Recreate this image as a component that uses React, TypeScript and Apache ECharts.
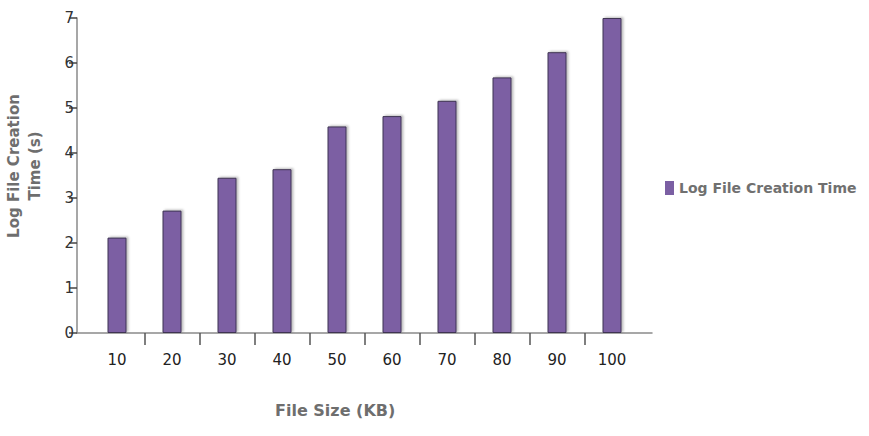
import React, { useEffect, useRef } from "react";
import * as echarts from "echarts";

const fileSizes = [10, 20, 30, 40, 50, 60, 70, 80, 90, 100];
const creationTimes = [2.12, 2.72, 3.45, 3.64, 4.59, 4.82, 5.16, 5.68, 6.24, 7.0];
const xTickValues = [15, 25, 35, 45, 55, 65, 75, 85, 95];
const seriesName = "Log File Creation Time";
const xTitle = "File Size (KB)";
const yTitle = "Log File Creation\nTime (s)";

export default function App() {
  const ref = useRef<HTMLDivElement>(null);
  useEffect(() => {
    document.body.style.margin = "0";
    const chart = echarts.init(ref.current!, null, { renderer: "svg" });
    chart.setOption({
      animation: false,
      backgroundColor: "#ffffff",
      textStyle: { fontFamily: "DejaVu Sans" },
      grid: { left: 77, right: 217, top: 18, bottom: 103, containLabel: false },
      legend: {
        left: 660,
        top: 176,
        itemWidth: 9,
        itemHeight: 14,
        itemGap: 8,
        icon: "rect",
        itemStyle: { borderWidth: 0, shadowBlur: 0, shadowOffsetX: 0, shadowOffsetY: 0 },
        textStyle: { fontSize: 14, fontWeight: "bold", color: "#707070", fontFamily: "DejaVu Sans" },
        data: [seriesName],
      },
      xAxis: {
        type: "value",
        min: 10 - 40 / 5.5,
        max: 100 + 40 / 5.5,
        splitLine: { show: false },
        axisLine: { show: true, lineStyle: { color: "#8a8a8a", width: 1.5 } },
        axisTick: {
          show: true,
          length: 12,
          customValues: xTickValues,
          lineStyle: { color: "#555", width: 1.5 },
        },
        axisLabel: {
          customValues: fileSizes,
          margin: 19,
          fontSize: 15,
          color: "#222",
          fontFamily: "DejaVu Sans",
        },
      },
      yAxis: {
        type: "value",
        min: 0,
        max: 7,
        interval: 1,
        splitLine: { show: false },
        axisLine: { show: true, lineStyle: { color: "#8a8a8a", width: 1.5 } },
        axisTick: { show: true, length: 8, lineStyle: { color: "#444", width: 1.5 } },
        axisLabel: { margin: 3, fontSize: 15, color: "#333", fontFamily: "DejaVu Sans" },
      },
      series: [
        {
          name: seriesName,
          type: "bar",
          barWidth: 19,
          data: fileSizes.map((s, i) => [s, creationTimes[i]]),
          itemStyle: {
            color: "#7b5fa3",
            borderColor: "#3f3452",
            borderWidth: 1,
            shadowColor: "rgba(0,0,0,0.25)",
            shadowBlur: 2,
            shadowOffsetX: 2,
            shadowOffsetY: -1,
          },
        },
      ],
      graphic: [
        {
          type: "text",
          left: 337 - 62,
          top: 402,
          style: {
            text: xTitle,
            fontSize: 16,
            fontWeight: "bold",
            fill: "#6e6e6e",
            fontFamily: "DejaVu Sans",
          },
        },
        {
          type: "text",
          x: 24,
          y: 166,
          rotation: Math.PI / 2,
          style: {
            text: yTitle,
            fontSize: 15,
            fontWeight: "bold",
            fill: "#6e6e6e",
            fontFamily: "DejaVu Sans",
            align: "center",
            verticalAlign: "middle",
            lineHeight: 21,
          },
        },
      ],
    });
    return () => chart.dispose();
  }, []);
  return <div ref={ref} style={{ width: 869, height: 436 }} />;
}
